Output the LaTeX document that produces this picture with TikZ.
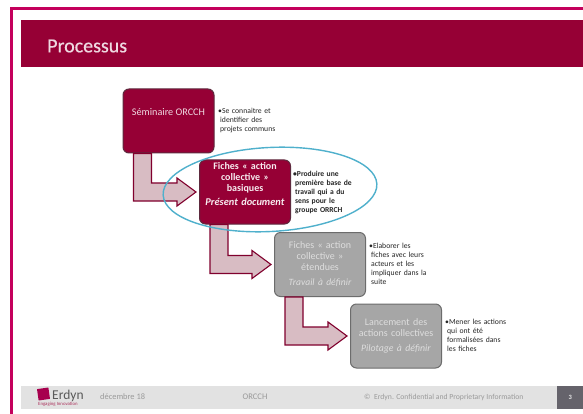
\documentclass[tikz,border=0pt]{standalone}
\usepackage{fontspec}
\setmainfont{Carlito}
\newfontface\semibold[FakeBold=0.5]{Carlito}
\usetikzlibrary{calc,shapes.geometric}
\definecolor{maroon}{HTML}{960035}
\definecolor{frameC}{HTML}{C4005C}
\definecolor{boxline}{HTML}{5E2A3E}
\definecolor{arrowfill}{HTML}{D8BCC3}
\definecolor{graybox}{HTML}{A6A6A6}
\definecolor{graytext}{HTML}{DEDEDE}
\definecolor{footbg}{HTML}{E2E2E2}
\definecolor{foottext}{HTML}{9A9A9A}
\definecolor{pagebox}{HTML}{65636B}
\definecolor{ringC}{HTML}{4FB0CC}
\tikzset{
  stage/.style={rounded corners=6pt,minimum width=91pt,minimum height=64pt,inner sep=1pt,
    align=center,text width=89pt,font=\fontsize{10}{11}\selectfont},
  stageon/.style={stage,fill=maroon,draw=boxline,line width=1pt,text=white!92!maroon},
  stageoff/.style={stage,fill=graybox,draw=gray!85!black,line width=1pt,text=graytext},
  note/.style={anchor=north west,align=left,inner sep=0pt,text width=72pt,text=black!85,
    font=\fontsize{7.7}{8.9}\selectfont},
  bentarrow/.style={fill=arrowfill,draw=maroon!85!black,line width=1.1pt,line join=miter},
  foot/.style={text=foottext,inner sep=0pt},
}
\newcommand{\bentarrowfrom}[2]{%
  \path[bentarrow] let \p1=(#1.south west),\p2=(#2.west) in
    (\x1+11pt,\y1) -- (\x1+29pt,\y1) -- (\x1+29pt,\y2+9pt) -- (\x2-22pt,\y2+9pt)
    -- (\x2-22pt,\y2+14pt) -- (\x2-3pt,\y2) -- (\x2-22pt,\y2-14pt)
    -- (\x2-22pt,\y2-9pt) -- (\x1+11pt,\y2-9pt) -- cycle;}
\begin{document}
\begin{tikzpicture}[x=1pt,y=-1pt]
\useasboundingbox (0,0) rectangle (583,414);
\fill[white] (0,0) rectangle (583,414);
% frame
\fill[frameC] (10,7) rectangle (583,10);
\fill[frameC] (10,7) rectangle (13,414);
% banner
\fill[maroon] (21,20) rectangle (583,67);
\node[anchor=west,inner sep=0pt,text=white!85!maroon,font=\fontsize{20}{22}\semibold] (title) at (47,46) {Processus};
% stages
\node[stageon]  (s1) at (168.5,121) {};
\node[text=white!85!maroon,font=\fontsize{10.2}{11}\selectfont,inner sep=0pt] (s1t) at (168.5,112.5) {Séminaire ORCCH};
\node[stageon]  (s2) at (245,192) {};
\node[inner sep=0pt,align=center,text width=89pt,text=white!92!maroon,font=\fontsize{10}{11}\selectfont] (s2t) at (245,184) {\textbf{Fiches « action\\collective »\\basiques}\\[3pt]{\fontsize{10.4}{11}\selectfont\textbf{\itshape Présent document}}};
\node[stageoff] (s3) at (320,264.5) {Fiches « action\\collective »\\étendues\\[4pt]{\fontsize{9.6}{11}\selectfont\textit{Travail à définir}}};
\node[stageoff] (s4) at (396,336) {Lancement des\\actions collectives\\[4pt]{\fontsize{9.8}{11}\selectfont\textit{Pilotage à définir}}};
% arrows
\bentarrowfrom{s1}{s2}
\bentarrowfrom{s2}{s3}
\bentarrowfrom{s3}{s4}
% notes
\node[note] (n1) at (218,108.5) {•Se connaitre et\\\hspace*{2pt}identifier des\\\hspace*{2pt}projets communs};
\node[note,font=\fontsize{7.6}{8.9}\selectfont\bfseries] (n2) at (293,171) {•Produire une\\\hspace*{2pt}première base de\\\hspace*{2pt}travail qui a du\\\hspace*{2pt}sens pour le\\\hspace*{2pt}groupe ORRCH};
\node[note] (n3) at (369,243) {•Elaborer les\\\hspace*{2pt}fiches avec leurs\\\hspace*{2pt}acteurs et les\\\hspace*{2pt}impliquer dans la\\\hspace*{2pt}suite};
\node[note] (n4) at (445,319) {•Mener les actions\\\hspace*{2pt}qui ont été\\\hspace*{2pt}formalisées dans\\\hspace*{2pt}les fiches};
% ring
\node[ellipse,draw=ringC,line width=1.4pt,minimum width=214pt,minimum height=84pt,rotate=3,inner sep=0pt] (ring) at (270,189.5) {};
% footer
\fill[footbg] (21,386) rectangle (557,408.5);
\node[fill=pagebox,minimum width=26pt,minimum height=22.5pt,inner sep=0pt,anchor=north west,text=white!85!pagebox,font=\fontsize{6.5}{7}\selectfont\bfseries] (page) at (557,386) {3};
\node[fill=frameC!85!black,minimum size=11.5pt,inner sep=0pt,rotate=8] (logo) at (43.5,394) {};
\node[anchor=west,inner sep=0pt,text=black!65,font=\fontsize{13.5}{14}\selectfont] (brand) at (52,395.5) {Erdyn};
\node[inner sep=0pt,text=maroon!80,font=\fontsize{4.8}{5}\selectfont,anchor=west] (tag) at (38,404) {Engaging Innovation};
\node[foot,anchor=west,font=\fontsize{8.4}{9}\selectfont] (date) at (100,397) {décembre 18};
\node[foot,font=\fontsize{8.6}{9}\selectfont] (proj) at (255,397) {ORCCH};
\node[foot,font=\fontsize{7.7}{9}\selectfont,anchor=west] (copy) at (364,397) {©\ \ Erdyn. Confidential and Proprietary Information};
\end{tikzpicture}
\end{document}
